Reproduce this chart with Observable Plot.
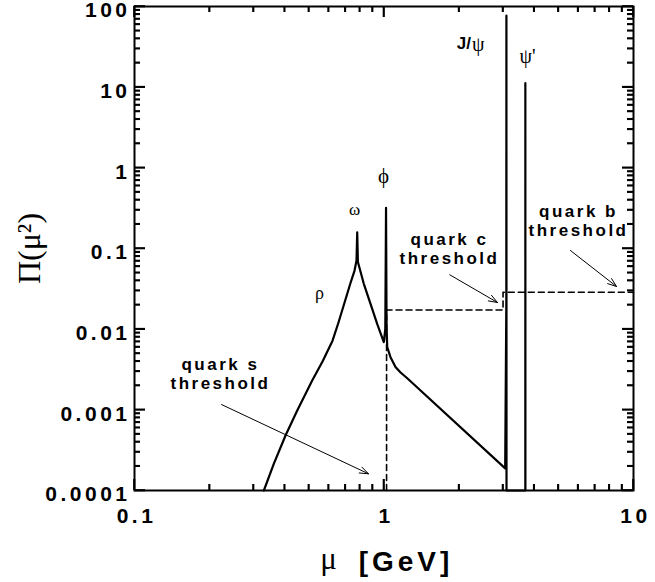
<!DOCTYPE html>
<html><head><meta charset="utf-8">
<script src="https://cdn.jsdelivr.net/npm/d3@7"></script>
<script src="https://cdn.jsdelivr.net/npm/@observablehq/plot@0.6"></script>
<style>
html,body{margin:0;padding:0;background:#fff;}
svg{display:block;}
</style>
</head><body><div id="chart"></div>
<script>
// Spectral function Π(μ²) vs μ [GeV]
const curveMu = [0.330, 0.3616, 0.403, 0.449, 0.5155, 0.567, 0.622, 0.657, 0.695, 0.733, 0.762, 0.776, 0.781, 0.786,
  0.830, 0.883, 0.939, 0.998, 1.012, 1.019, 1.024, 1.030, 1.062, 1.112, 1.165, 1.233, 3.06,
  3.092, 3.095, 3.098, 3.685, 3.686, 3.688];
const curvePi = [1.0e-4, 2.14e-4, 4.81e-4, 9.8e-4, 2.31e-3, 3.97e-3, 7.2e-3, 0.0121, 0.0214, 0.0368, 0.0533, 0.071, 0.159, 0.068,
  0.0365, 0.0206, 0.0116, 0.0069, 0.010, 0.32, 0.011, 0.0060, 0.0045, 0.0034, 0.0029, 0.0025, 0.000188,
  0.02, 77, 1e-4, 1e-4, 11.2, 1e-4];

// dashed quark-threshold staircase
const thresholdMu = [1.024, 1.024, 3.0, 3.0, 10];
const thresholdPi = [1e-4, 0.0173, 0.0173, 0.0287, 0.0287];

// axis ticks
const xDomain = [0.1, 10];
const yDomain = [1e-4, 100];
const xTicks = [0.1, 1, 10];
const xTickLabels = ["0.1", "1", "10"];
const yTicks = [1e-4, 1e-3, 0.01, 0.1, 1, 10, 100];
const yTickLabels = ["0.0001", "0.001", "0.01", "0.1", "1", "10", "100"];
const xDecades = [0.1, 1];
const yDecades = [1e-4, 1e-3, 0.01, 0.1, 1, 10];
const minorSteps = [2, 3, 4, 5, 6, 7, 8, 9];

// annotations
const notes = ["quark s\nthreshold", "quark c\nthreshold", "quark b\nthreshold"];
const noteMu = [0.2211, 1.830, 6.02];
const notePi = [0.00282, 0.1014, 0.2254];
const arrowMu1 = [0.2233, 1.835, 5.59];
const arrowPi1 = [0.001163, 0.0472, 0.0944];
const arrowMu2 = [0.867, 2.85, 8.55];
const arrowPi2 = [0.000161, 0.0214, 0.0338];

const greek = ["ρ", "ω", "ϕ", "ψ'"];
const greekMu = [0.5514, 0.762, 0.9954, 3.76];
const greekPi = [0.0277, 0.304, 0.780, 24.0];
const greekSize = [18, 17, 21, 20];
const jpsiMu = [2.232];
const jpsiPi = [35.0];

const curve = curveMu.map((m, i) => ({m, p: curvePi[i]}));
const threshold = thresholdMu.map((m, i) => ({m, p: thresholdPi[i]}));
const xMinor = xDecades.flatMap(d => minorSteps.map(s => s * d));
const yMinor = yDecades.flatMap(d => minorSteps.map(s => s * d));
const noteData = notes.map((t, i) => ({t, m: noteMu[i], p: notePi[i]}));
const arrows = arrowMu1.map((m, i) => ({x1: m, y1: arrowPi1[i], x2: arrowMu2[i], y2: arrowPi2[i]}));
const greekData = greek.map((t, i) => ({t, m: greekMu[i], p: greekPi[i], s: greekSize[i]}));

const SANS = "Arial, 'Liberation Sans', Helvetica, sans-serif";
const SERIF = "'Times New Roman', 'Liberation Serif', 'DejaVu Serif', serif";

// frame geometry (pixels) used only to express tick lengths
const W = 655, H = 582, ML = 134, MR = 22, MT = 6, MB = 92;
const FH = H - MT - MB, FW = W - ML - MR;
const yPxPerDecade = FH / 6;
const xPxPerDecade = FW / 2;
const MAJ = 11, MIN = 6;

const xTickSegs = [], yTickSegs = [];
for (const v of xTicks) {
  xTickSegs.push({v, a: yDomain[0], b: yDomain[0] * Math.pow(10, MAJ / yPxPerDecade)});
  xTickSegs.push({v, a: yDomain[1], b: yDomain[1] / Math.pow(10, MAJ / yPxPerDecade)});
}
for (const v of xMinor) {
  xTickSegs.push({v, a: yDomain[0], b: yDomain[0] * Math.pow(10, MIN / yPxPerDecade)});
  xTickSegs.push({v, a: yDomain[1], b: yDomain[1] / Math.pow(10, MIN / yPxPerDecade)});
}
for (const v of yTicks) {
  yTickSegs.push({v, a: xDomain[0], b: xDomain[0] * Math.pow(10, MAJ / xPxPerDecade)});
  yTickSegs.push({v, a: xDomain[1], b: xDomain[1] / Math.pow(10, MAJ / xPxPerDecade)});
}
for (const v of yMinor) {
  yTickSegs.push({v, a: xDomain[0], b: xDomain[0] * Math.pow(10, MIN / xPxPerDecade)});
  yTickSegs.push({v, a: xDomain[1], b: xDomain[1] / Math.pow(10, MIN / xPxPerDecade)});
}

const svg = Plot.plot({
  width: W, height: H,
  marginLeft: ML, marginRight: MR, marginTop: MT, marginBottom: MB,
  x: {type: "log", domain: xDomain, axis: null},
  y: {type: "log", domain: yDomain, axis: null},
  marks: [
    Plot.frame({stroke: "black", strokeWidth: 2}),
    // ticks, inward on all four sides
    Plot.ruleX(xTickSegs, {x: "v", y1: "a", y2: "b", stroke: "#000", strokeWidth: 1.6}),
    Plot.ruleY(yTickSegs, {y: "v", x1: "a", x2: "b", stroke: "#000", strokeWidth: 1.6}),
    // threshold dashed line
    Plot.line(threshold, {x: "m", y: "p", stroke: "black", strokeWidth: 1.6, strokeDasharray: "6,4", curve: "linear"}),
    // spectral curve
    Plot.line(curve, {x: "m", y: "p", stroke: "black", strokeWidth: 2.2, curve: "linear"}),
    // arrows
    Plot.arrow(arrows, {x1: "x1", y1: "y1", x2: "x2", y2: "y2", stroke: "black", strokeWidth: 1, headLength: 14, headAngle: 40}),
    // annotation text
    Plot.text(noteData, {x: "m", y: "p", text: "t", fontSize: 17, fontWeight: "bold", fontFamily: SANS, lineHeight: 1.12, fill: "black"}),
    Plot.text(greekData, {x: "m", y: "p", text: "t", fontSize: d => d.s, fontFamily: SERIF, fill: "black"}),
    Plot.text(jpsiMu, {x: d => d, y: (d, i) => jpsiPi[i], text: () => "J/", textAnchor: "end", fontSize: 17, fontWeight: "bold", fontFamily: SANS, fill: "black"}),
    Plot.text(jpsiMu, {x: d => d, y: (d, i) => jpsiPi[i], text: () => "ψ", textAnchor: "start", dx: 1, dy: 1, fontSize: 20, fontFamily: SERIF, fill: "black"}),
    // tick labels
    Plot.text(yTicks, {y: d => d, text: (d, i) => yTickLabels[i], frameAnchor: "left", textAnchor: "end", lineAnchor: "middle", dx: -4, dy: 4, fontSize: 21, fontWeight: "bold", fontFamily: SANS, fill: "black"}),
    Plot.text(xTicks, {x: d => d, text: (d, i) => xTickLabels[i], frameAnchor: "bottom", textAnchor: "middle", lineAnchor: "middle", dx: 2, dy: 26, fontSize: 21, fontWeight: "bold", fontFamily: SANS, fill: "black"}),
    // axis titles
    Plot.text(["Π(μ²)"], {frameAnchor: "left", textAnchor: "middle", lineAnchor: "middle", dx: -105, rotate: -90, fontSize: 32, fontFamily: SERIF, fill: "black"}),
    Plot.text(["μ"], {frameAnchor: "bottom", textAnchor: "middle", lineAnchor: "middle", dx: -55.5, dy: 69, fontSize: 31, fontFamily: SERIF, fill: "black"}),
    Plot.text(["[GeV]"], {frameAnchor: "bottom", textAnchor: "middle", lineAnchor: "middle", dx: 22, dy: 72, fontSize: 28, fontWeight: "bold", fontFamily: SANS, fill: "black"})
  ]
});
svg.style.background = "white";

// fallback: the same tick segments, positioned through the plot's own scales
try {
  const sx = svg.scale("x"), sy = svg.scale("y");
  const g = document.createElementNS("http://www.w3.org/2000/svg", "g");
  g.setAttribute("stroke", "#000");
  g.setAttribute("stroke-width", "1.6");
  const add = (x1, y1, x2, y2) => {
    const l = document.createElementNS("http://www.w3.org/2000/svg", "line");
    l.setAttribute("x1", x1); l.setAttribute("y1", y1);
    l.setAttribute("x2", x2); l.setAttribute("y2", y2);
    g.appendChild(l);
  };
  for (const s of xTickSegs) add(sx.apply(s.v), sy.apply(s.a), sx.apply(s.v), sy.apply(s.b));
  for (const s of yTickSegs) add(sx.apply(s.a), sy.apply(s.v), sx.apply(s.b), sy.apply(s.v));
  svg.appendChild(g);
} catch (e) {}

// letter spacing, as in the original typesetting
const tickSet = new Set([...xTickLabels, ...yTickLabels]);
svg.querySelectorAll("text").forEach(t => {
  const s = t.textContent;
  if (tickSet.has(s)) t.style.letterSpacing = "3.5px";
  else if (s.includes("threshold")) t.style.letterSpacing = "2.5px";
  else if (s === "[GeV]") t.style.letterSpacing = "4px";
});

document.getElementById("chart").appendChild(svg);
</script>
</body></html>
